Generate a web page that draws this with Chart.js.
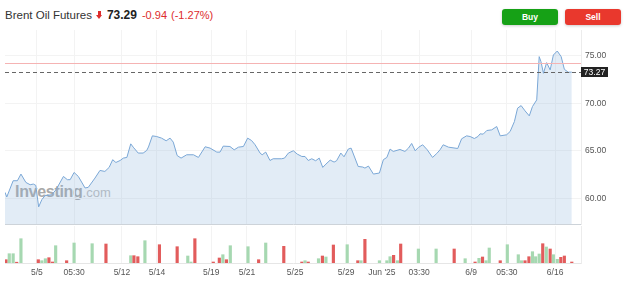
<!DOCTYPE html>
<html>
<head>
<meta charset="utf-8">
<script src="https://cdn.jsdelivr.net/npm/chart.js@4.4.1/dist/chart.umd.min.js"></script>
<style>
body { margin: 0; background: #fff; font-family: "Liberation Sans", Arial, sans-serif; }
#wrap { position: relative; width: 624px; height: 289px; overflow: hidden; }
#head { position: absolute; left: 5px; top: 7px; white-space: nowrap; line-height: 14px; }
#head .name { font-size: 11.5px; color: #333; }
#head .arrow { display: inline-block; position: relative; width: 7px; height: 8px; margin-left: 4px; }
#head .arrow:before { content: ""; position: absolute; left: 2px; top: 0; width: 3px; height: 4px; background: #dd2d2d; }
#head .arrow:after { content: ""; position: absolute; left: 0; top: 4px; border-left: 3.5px solid transparent; border-right: 3.5px solid transparent; border-top: 4px solid #dd2d2d; }
#head .last { font-size: 12px; font-weight: bold; color: #222; margin-left: 4px; }
#head .chg { font-size: 11px; color: #dd2d2d; margin-left: 5px; }
.btn { position: absolute; top: 9px; width: 56px; height: 16px; line-height: 16px; border-radius: 3px; color: #fff; font-weight: bold; font-size: 8.5px; text-align: center; box-shadow: 0 1px 3px rgba(0,0,0,0.2); }
#buy { left: 502px; background: #16a116; }
#sell { left: 565px; background: #e9382d; }
#wm { position: absolute; left: 15px; top: 184px; line-height: 16px; white-space: nowrap; }
#wm b { font-size: 16px; color: #a9a9a9; letter-spacing: -0.3px; }
#wm span { font-size: 13px; color: #bdbdbd; }
#price { position: absolute; left: 0; top: 30px; }
#vol { position: absolute; left: 0; top: 226px; }
</style>
</head>
<body>
<div id="wrap">
  <div id="head"><span class="name">Brent Oil Futures</span><span class="arrow"></span><span class="last">73.29</span><span class="chg">-0.94</span><span class="chg" style="margin-left:4px">(-1.27%)</span></div>
  <div class="btn" id="buy">Buy</div>
  <div class="btn" id="sell">Sell</div>
  <div id="wm"><b>Investing</b><span>.com</span></div>
  <canvas id="price" width="624" height="196"></canvas>
  <canvas id="vol" width="624" height="63"></canvas>
</div>
<script>
// price line, x = bar index
const priceX = [0,0.5,2.3,3.5,4.5,5.9,7.1,8.0,8.7,9.5,
  10.4,11.3,13.2,14.4,16.5,17.6,18.4,19.5,20.7,22.6,
  23.5,25.4,26.8,28.2,29.4,30.4,31.3,32.5,33.4,34.4,
  35.5,36.2,37.6,39.0,40.0,40.5,41.6,42.8,44.2,45.5,
  46.6,47.5,48.6,49.7,51.3,53.2,54.6,56.5,57.9,59.8,
  60.7,61.6,63.5,64.7,65.9,67.3,68.5,69.6,70.6,72.0,
  72.6,73.6,74.8,75.7,78.1,78.9,80.0,81.4,82.5,83.8,
  84.7,85.6,86.6,87.7,88.7,89.7,90.6,91.8,92.9,93.6,
  94.8,95.7,96.9,97.7,99.7,101.0,101.6,102.6,104.0,105.7,
  106.8,107.8,108.7,109.6,111.5,112.9,113.9,114.8,115.8,116.7,
  117.9,119.2,120.7,121.9,122.8,123.7,125.2,127.8,128.9,130.3,
  131.3,132.5,133.5,134.1,135.0,136.0,137.4,138.8,139.8,141.6,
  142.6,143.8,144.7,145.7,146.8,148.0,148.9,150.1,150.8,151.3,
  152.0,152.9,153.9,154.8,155.9,157.0,157.9,159.0,160.0];
const priceY = [60.63,60.14,61.85,61.85,62.55,61.67,61.43,61.5,61.36,59.1,
  59.86,60.28,60.38,60.9,62.3,61.96,61.96,62.72,62.3,61.09,
  61.15,62.13,62.93,62.83,63.25,64.06,63.77,63.98,64.23,64.3,
  65.73,65.38,64.76,64.76,65.03,65.4,66.57,66.5,66.33,66.05,
  66.33,65.91,64.5,64.23,64.58,64.58,64.3,65.42,65.28,64.86,
  64.86,65.49,65.45,65.1,65.38,65.45,66.33,66.08,65.63,64.76,
  64.58,64.86,63.98,64.16,64.16,64.23,64.76,65.0,64.65,64.4,
  64.4,63.98,64.16,63.95,64.23,63.25,63.6,64.02,63.81,63.95,
  64.76,64.37,65.18,65.28,63.35,63.29,63.18,63.39,62.55,62.66,
  64.06,64.3,65.18,64.93,65.14,64.93,65.28,65.77,65.0,65.35,
  65.63,65.1,64.3,64.72,65.1,65.63,65.38,65.24,66.26,66.57,
  66.5,66.29,66.5,66.78,66.75,67.13,67.2,67.55,66.57,66.68,
  67.03,68.07,69.48,69.75,69.2,68.67,69.65,70.35,74.9,74.37,
  73.15,74.27,73.5,75.07,75.49,74.9,73.57,73.26,73.27];

// volume bars
const volX = [0.3,1.2,2.3,3.3,4.5,9.4,10.4,11.4,12.4,13.4,
  14.3,17.4,19.5,24.6,28.5,35.5,36.4,37.5,39.5,43.6,
  48.6,51.6,52.5,53.6,58.8,60.5,61.5,62.5,63.6,68.6,
  71.6,73.6,78.7,83.8,84.7,85.6,88.5,89.6,90.6,92.7,
  96.6,99.6,100.5,101.6,105.7,107.8,108.7,109.7,110.8,111.7,
  116.7,121.7,126.8,129.9,132.7,133.8,134.8,135.8,136.7,139.8,
  141.8,144.9,145.8,146.8,147.9,148.9,149.8,150.8,151.8,152.8,
  153.9,154.8,155.9,156.9,157.9,160.0];
const volY = [3.3,9.3,9.3,0.8,24.3,3.3,2.3,4.3,5.3,1,
  17.3,2.3,20,19.3,19,7.3,7.3,6.3,22.3,18.3,
  16.3,7,1,24.3,1,5,8.3,3.3,17.3,16.3,
  3.3,20,16.7,1,2.3,1,4.3,7,6,18,
  18.3,2.3,2.3,23.7,2.3,2.3,6.3,7.7,2.3,19,
  14,14,14,4.3,1,4.7,6,2.3,15,2.3,
  18.3,8.3,2.3,2.3,6.3,11.3,6.3,9,19.3,16,
  14,8.3,3.7,5.7,7,1];
const volUp = [0,1,1,0,1,0,1,1,0,0,
  1,0,1,1,0,1,0,0,1,0,
  0,1,1,0,0,0,1,0,1,1,
  0,1,0,0,1,0,1,0,1,0,
  1,0,1,0,1,1,1,0,1,0,
  1,1,0,1,0,1,0,1,1,0,
  1,1,1,0,0,1,1,1,0,1,
  0,1,1,0,0,0];

const tickPos = [9.0,19.5,33.0,42.9,58.2,68.3,81.9,96.3,106.4,116.9,131.6,141.7,155.3];
const tickLabels = ['5/5','05:30','5/12','5/14','5/19','5/21','5/25','5/29',"Jun '25",'03:30','6/9','05:30','6/16'];
const priceTicks = [60, 65, 70, 75];
const prevClose = 74.23;
const lastPrice = 73.27;

Chart.defaults.font.family = '"Liberation Sans", Arial, sans-serif';
Chart.defaults.font.size = 8.5;
Chart.defaults.color = '#555';

var xMin = 0, xMax = 162.6;

function xTicks(scale) {
  scale.ticks = tickPos.map(v => ({ value: v }));
}
// no extra label padding, the panels must line up exactly
function noPad(s) {
  s.paddingTop = 0; s.paddingBottom = 0; s.paddingLeft = 0; s.paddingRight = 0;
}

// previous close line, last price dashed line + label box
const refLines = {
  id: 'refLines',
  afterDatasetsDraw(chart) {
    const ctx = chart.ctx, a = chart.chartArea, y = chart.scales.y;
    ctx.save();
    let yp = Math.round(y.getPixelForValue(prevClose)) + 0.5;
    ctx.strokeStyle = '#f5b3b3';
    ctx.lineWidth = 1;
    ctx.beginPath(); ctx.moveTo(a.left, yp); ctx.lineTo(a.right, yp); ctx.stroke();
    let yl = Math.round(y.getPixelForValue(lastPrice)) + 0.5;
    ctx.strokeStyle = '#666';
    ctx.setLineDash([4, 3]);
    ctx.beginPath(); ctx.moveTo(a.left, yl); ctx.lineTo(a.right, yl); ctx.stroke();
    ctx.setLineDash([]);
    ctx.fillStyle = '#222';
    ctx.fillRect(a.right, yl - 5.5, 27, 10);
    ctx.fillStyle = '#fff';
    ctx.font = '8.5px "Liberation Sans", Arial';
    ctx.textAlign = 'center';
    ctx.textBaseline = 'middle';
    ctx.fillText(lastPrice.toFixed(2), a.right + 13.5, yl);
    ctx.restore();
  }
};

new Chart(document.getElementById('price'), {
  type: 'line',
  data: {
    datasets: [{
      data: priceX.map((x, i) => ({ x: x, y: priceY[i] })),
      borderColor: '#7aa7d6',
      borderWidth: 1,
      backgroundColor: 'rgba(140,180,220,0.25)',
      fill: 'start',
      pointRadius: 0,
      tension: 0
    }]
  },
  options: {
    responsive: false,
    animation: false,
    devicePixelRatio: 1,
    layout: { autoPadding: false, padding: { left: 5, top: 0, right: 0, bottom: 2 } },
    plugins: { legend: { display: false }, tooltip: { enabled: false } },
    scales: {
      x: {
        type: 'linear', min: xMin, max: xMax, offset: false,
        afterBuildTicks: xTicks,
        afterFit: s => { s.height = 0; noPad(s); },
        ticks: { display: false },
        grid: { color: '#f3f3f3', drawTicks: false },
        border: { color: '#cdd3d9' }
      },
      y: {
        position: 'right', min: 57.3, max: 77.7,
        afterBuildTicks: s => { s.ticks = priceTicks.map(v => ({ value: v })); },
        afterFit: s => { s.width = 43; noPad(s); },
        ticks: { padding: 4, callback: v => v.toFixed(2) },
        grid: { color: '#f3f3f3', drawTicks: false },
        border: { color: '#ececec' }
      }
    }
  },
  plugins: [refLines]
});

new Chart(document.getElementById('vol'), {
  type: 'bar',
  data: {
    datasets: [{
      data: volX.map((x, i) => ({ x: x, y: volY[i] })),
      backgroundColor: c => volUp[c.dataIndex] ? '#a6d8b1' : '#e25c5c',
      barThickness: 2.5,
      grouped: false
    }]
  },
  options: {
    responsive: false,
    animation: false,
    devicePixelRatio: 1,
    layout: { autoPadding: false, padding: { left: 5, top: 0, right: 0, bottom: 0 } },
    plugins: { legend: { display: false }, tooltip: { enabled: false } },
    scales: {
      x: {
        type: 'linear', min: xMin, max: xMax, offset: false,
        afterBuildTicks: xTicks,
        afterFit: s => { s.height = 26; noPad(s); },
        ticks: { padding: 5, autoSkip: false, maxRotation: 0, callback: (v, i) => tickLabels[i] },
        grid: { color: '#f3f3f3', drawTicks: false, offset: false },
        border: { color: '#e6e6e6' }
      },
      y: {
        position: 'right', min: 0, max: 37,
        afterFit: s => { s.width = 43; noPad(s); },
        ticks: { display: false },
        grid: { display: false },
        border: { color: '#ececec' }
      }
    }
  }
});
</script>
</body>
</html>
